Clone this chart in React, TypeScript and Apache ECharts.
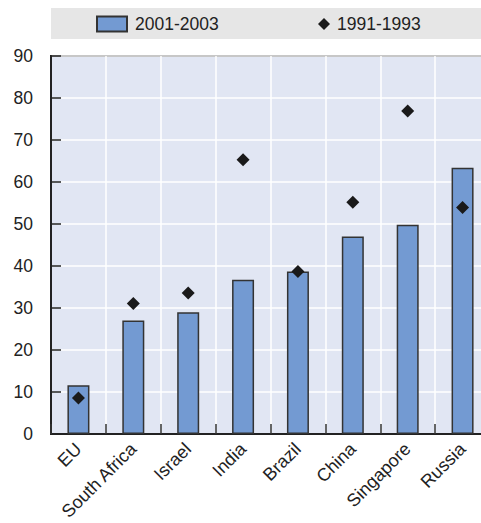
import React, { useEffect, useRef } from "react";
import * as echarts from "echarts";

const categories = ["EU", "South Africa", "Israel", "India", "Brazil", "China", "Singapore", "Russia"];
const values2001 = [11.6, 27.0, 29.0, 36.7, 38.7, 47.0, 49.8, 63.4];
const values1991 = [8.6, 31.1, 33.6, 65.3, 38.7, 55.2, 76.9, 53.9];
const yTicks = { min: 0, max: 90, interval: 10 };
const seriesNames = ["2001-2003", "1991-1993"];

export default function App() {
  const ref = useRef<HTMLDivElement>(null);
  useEffect(() => {
    if (!ref.current) return;
    const chart = echarts.init(ref.current, null, { renderer: "svg" });
    const font = "Liberation Sans, Arial, sans-serif";
    chart.setOption({
      animation: false,
      textStyle: { fontFamily: font },
      graphic: [
        {
          type: "rect",
          z: -1,
          shape: { x: 51, y: 8, width: 440, height: 31 },
          style: { fill: "#e6e6e6" },
          silent: true,
        },
      ],
      legend: [
        {
          left: 96,
          top: 15,
          padding: 0,
          icon: "rect",
          itemWidth: 30,
          itemHeight: 15,
          itemGap: 5,
          data: [seriesNames[0]],
          textStyle: { fontSize: 17.5, color: "#222", fontFamily: font, padding: [0, 0, 0, 3] },
        },
        {
          left: 318,
          top: 15,
          padding: 0,
          itemWidth: 12,
          itemHeight: 12,
          data: [seriesNames[1]],
          textStyle: { fontSize: 17.5, color: "#222", fontFamily: font, padding: [0, 0, 0, 2] },
        },
      ],
      grid: {
        left: 51,
        top: 56,
        right: -9,
        bottom: 89,
        show: true,
        backgroundColor: "#e1e6f3",
        borderColor: "#222",
        borderWidth: 2,
        containLabel: false,
        outerBoundsMode: "none",
      },
      xAxis: {
        type: "category",
        data: categories,
        axisLine: { show: true, lineStyle: { color: "#222", width: 2 } },
        axisTick: { show: true, inside: true, length: 10, lineStyle: { color: "#333", width: 1.5 } },
        splitLine: { show: true, lineStyle: { color: "#ffffff", width: 1.5 } },
        axisLabel: { rotate: 45, fontSize: 18, color: "#222", margin: 12, fontFamily: font, interval: 0 },
      },
      yAxis: {
        type: "value",
        min: yTicks.min,
        max: yTicks.max,
        interval: yTicks.interval,
        axisLine: { show: true, lineStyle: { color: "#222", width: 2 } },
        axisTick: { show: true, inside: true, length: 10, lineStyle: { color: "#222", width: 1.5 } },
        splitLine: { show: true, lineStyle: { color: "#ffffff", width: 1.5 } },
        axisLabel: { fontSize: 17.5, color: "#222", margin: 18, fontFamily: font },
      },
      series: [
        {
          name: seriesNames[0],
          type: "bar",
          data: values2001,
          barWidth: 22,
          itemStyle: { color: "#739ad2", borderColor: "#333", borderWidth: 1.5 },
        },
        {
          name: seriesNames[1],
          type: "scatter",
          data: values1991,
          symbol: "diamond",
          symbolSize: 13,
          itemStyle: { color: "#1a1a1a", opacity: 1 },
          z: 5,
        },
      ],
    });
    return () => chart.dispose();
  }, []);
  return (
    <div
      ref={ref}
      style={{ position: "fixed", left: 0, top: 0, width: 481, height: 523, background: "#fff" }}
    />
  );
}
